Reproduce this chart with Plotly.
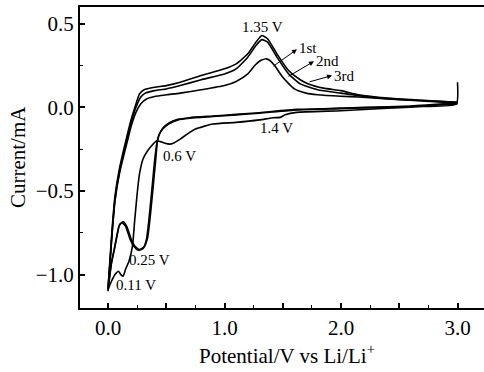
import plotly.graph_objects as go

# ---------------- data ----------------
# cycle 1 (first scan): cathodic branch 3.0 V -> 0 V
c1_cath_v = [3.0, 2.99, 2.7, 2.4, 2.0, 1.62, 1.52, 1.48, 1.42, 1.3, 1.1, 0.9, 0.75, 0.68, 0.62, 0.56, 0.53,
             0.49, 0.45, 0.42, 0.38, 0.34, 0.30, 0.27, 0.25, 0.23, 0.21, 0.18, 0.15, 0.13, 0.11, 0.09, 0.06, 0.03, 0.0]
c1_cath_i = [0.15, 0.02, 0.005, -0.005, -0.02, -0.03, -0.045, -0.06, -0.062, -0.075, -0.09, -0.10, -0.13, -0.16,
             -0.19, -0.215, -0.22, -0.215, -0.205, -0.20, -0.225, -0.26, -0.31, -0.40, -0.52, -0.67, -0.83, -0.92,
             -0.97, -1.01, -1.0, -0.98, -1.0, -1.04, -1.09]
# cycle 1 anodic branch 0 V -> 3.0 V
c1_an_v = [0.0, 0.015, 0.035, 0.06, 0.1, 0.16, 0.2, 0.24, 0.28, 0.33, 0.4, 0.5, 0.62, 0.8, 1.0, 1.1, 1.2, 1.26,
           1.31, 1.36, 1.39, 1.43, 1.5, 1.6, 1.7, 1.8, 2.0, 2.15, 2.4, 2.7, 3.0]
c1_an_i = [-1.09, -0.95, -0.76, -0.56, -0.39, -0.22, -0.11, -0.03, 0.02, 0.05, 0.065, 0.075, 0.085, 0.105, 0.13,
           0.155, 0.20, 0.25, 0.28, 0.29, 0.28, 0.25, 0.18, 0.11, 0.085, 0.075, 0.066, 0.062, 0.05, 0.038, 0.025]

# cycle 2
c2_cath_v = [3.0, 2.6, 2.2, 2.0, 1.62, 1.3, 1.1, 0.9, 0.7, 0.6, 0.52, 0.47, 0.44, 0.42, 0.40, 0.385, 0.37,
             0.35, 0.33, 0.30, 0.26, 0.22, 0.19, 0.15, 0.12, 0.095, 0.075, 0.05, 0.03, 0.0]
c2_cath_i = [0.02, 0.005, -0.003, -0.008, -0.015, -0.035, -0.045, -0.055, -0.065, -0.075, -0.10, -0.13, -0.16,
             -0.21, -0.32, -0.43, -0.54, -0.68, -0.79, -0.845, -0.855, -0.83, -0.79, -0.71, -0.69, -0.71, -0.77,
             -0.86, -0.93, -1.1]
c2_an_v = [0.0, 0.015, 0.035, 0.06, 0.1, 0.16, 0.2, 0.24, 0.28, 0.32, 0.4, 0.5, 0.62, 0.8, 1.0, 1.1, 1.2, 1.27,
           1.32, 1.37, 1.45, 1.55, 1.65, 1.8, 2.0, 2.15, 2.4, 2.7, 3.0]
c2_an_i = [-1.1, -0.95, -0.75, -0.55, -0.38, -0.2, -0.09, -0.0, 0.06, 0.085, 0.10, 0.11, 0.13, 0.165, 0.20,
           0.23, 0.30, 0.37, 0.405, 0.39, 0.30, 0.20, 0.14, 0.105, 0.085, 0.07, 0.052, 0.04, 0.03]

# cycle 3
c3_cath_v = [3.0, 2.6, 2.2, 2.0, 1.62, 1.3, 1.1, 0.9, 0.7, 0.6, 0.52, 0.47, 0.445, 0.425, 0.41, 0.395, 0.38,
             0.36, 0.34, 0.31, 0.27, 0.23, 0.20, 0.16, 0.13, 0.10, 0.08, 0.055, 0.03, 0.0]
c3_cath_i = [0.025, 0.008, 0.0, -0.005, -0.012, -0.032, -0.042, -0.052, -0.062, -0.072, -0.095, -0.125, -0.155,
             -0.20, -0.31, -0.42, -0.53, -0.67, -0.78, -0.835, -0.85, -0.83, -0.79, -0.71, -0.685, -0.70, -0.76,
             -0.85, -0.93, -1.08]
c3_an_v = [0.0, 0.015, 0.035, 0.06, 0.1, 0.16, 0.2, 0.24, 0.27, 0.31, 0.4, 0.5, 0.62, 0.8, 1.0, 1.1, 1.2, 1.27,
           1.32, 1.37, 1.45, 1.55, 1.65, 1.72, 1.85, 2.0, 2.15, 2.4, 2.7, 3.0]
c3_an_i = [-1.08, -0.93, -0.73, -0.53, -0.36, -0.18, -0.07, 0.02, 0.08, 0.105, 0.12, 0.13, 0.15, 0.19, 0.23,
           0.26, 0.32, 0.39, 0.43, 0.41, 0.32, 0.22, 0.165, 0.14, 0.115, 0.10, 0.075, 0.055, 0.042, 0.03]

x_tick_vals = [0.0, 0.5, 1.0, 1.5, 2.0, 2.5, 3.0]
x_tick_text = ["0.0", "", "1.0", "", "2.0", "", "3.0"]
y_tick_vals = [-1.0, -0.5, 0.0, 0.5]
y_tick_text = ["\u22121.0", "\u22120.5", "0.0", "0.5"]

FONT = "Liberation Serif, Times New Roman, serif"

fig = go.Figure()
cycles = [
    (c1_cath_v + c1_an_v, c1_cath_i + c1_an_i),
    (c2_cath_v + c2_an_v, c2_cath_i + c2_an_i),
    (c3_cath_v + c3_an_v, c3_cath_i + c3_an_i),
]
for vx, iy in cycles:
    fig.add_trace(go.Scatter(x=vx, y=iy, mode="lines",
                             line=dict(color="black", width=1.6, shape="spline", smoothing=0.5),
                             showlegend=False, hoverinfo="skip"))

ann = []
# peak / feature labels
for txt, x, y in [("1.35 V", 1.322, 0.482), ("1.4 V", 1.45, -0.126), ("0.6 V", 0.618, -0.293),
                  ("0.25 V", 0.352, -0.91), ("0.11 V", 0.24, -1.06),
                  ("1st", 1.717, 0.353), ("2nd", 1.88, 0.275), ("3rd", 2.026, 0.19)]:
    ann.append(dict(x=x, y=y, xref="x", yref="y", text=txt, showarrow=False,
                    font=dict(family=FONT, size=15, color="black")))
# arrows from curves to the cycle labels
for (tx, ty, hx, hy) in [(1.408, 0.240, 1.622, 0.347), (1.536, 0.18, 1.768, 0.275), (1.717, 0.15, 1.923, 0.19)]:
    ann.append(dict(x=hx, y=hy, ax=tx, ay=ty, xref="x", yref="y", axref="x", ayref="y", text="",
                    showarrow=True, arrowhead=2, arrowsize=1, arrowwidth=1, arrowcolor="black"))
# axis titles
ann.append(dict(x=0.512, y=-0.156, xref="paper", yref="paper", xanchor="center", yanchor="middle",
                text="Potential/V vs Li/Li<sup>+</sup>", showarrow=False,
                font=dict(family=FONT, size=21, color="black")))
ann.append(dict(x=-0.153, y=0.502, xref="paper", yref="paper", xanchor="center", yanchor="middle",
                text="Current/mA", textangle=-90, showarrow=False,
                font=dict(family=FONT, size=21, color="black")))

fig.update_layout(
    width=484, height=372,
    margin=dict(l=80, r=0, t=7, b=64, autoexpand=False),
    paper_bgcolor="white", plot_bgcolor="white",
    font=dict(family=FONT, color="black"),
    annotations=ann,
)
fig.update_xaxes(
    range=[-0.2403, 3.2275], showgrid=False, zeroline=False, automargin=False,
    showline=True, linecolor="black", linewidth=2, mirror=True,
    ticks="inside", ticklen=5, tickwidth=1.5, tickcolor="black",
    tickvals=x_tick_vals, ticktext=x_tick_text,
    minor=dict(ticks="inside", ticklen=3, tickwidth=1.2, tickcolor="black", dtick=0.25, tick0=0),
    tickfont=dict(family=FONT, size=21, color="black"),
)
fig.update_yaxes(
    range=[-1.2, 0.6], showgrid=False, zeroline=False, automargin=False,
    showline=True, linecolor="black", linewidth=2, mirror=False,
    ticks="inside", ticklen=5, tickwidth=1.5, tickcolor="black",
    tickvals=y_tick_vals, ticktext=y_tick_text,
    minor=dict(ticks="inside", ticklen=3, tickwidth=1.2, tickcolor="black", dtick=0.25, tick0=0),
    tickfont=dict(family=FONT, size=21, color="black"),
)

fig.write_html("out.html", config={"displayModeBar": False},
               post_script="document.body.style.margin='0';document.body.style.overflow='hidden';")
